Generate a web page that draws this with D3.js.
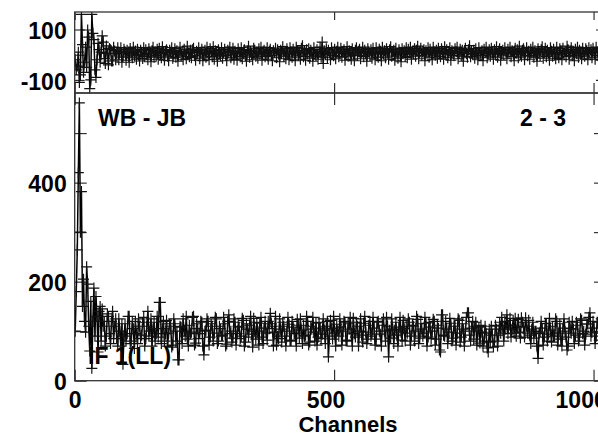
<!DOCTYPE html>
<html>
<head>
<meta charset="utf-8">
<script src="https://cdn.jsdelivr.net/npm/d3@7"></script>
<style>
  html, body { margin: 0; padding: 0; background: #fff; }
  svg { display: block; }
  text { font-family: "Liberation Sans", Arial, sans-serif; font-weight: bold; }
</style>
</head>
<body>
<svg id="chart" width="598" height="436"></svg>
<script>
// ---- data ----
const channelStart = 1;
const channelStep = 2;
const amplitude = [
  100, 180, 264, 420, 561, 300, 382, 150, 205, 120, 98, 230, 195, 110, 60, 160,
  25, 120, 187, 90, 170, 130, 58, 140, 150, 80, 145, 110, 120, 70, 90, 135,
  130, 95, 75, 120, 140, 85, 110, 125, 85, 70, 125, 100, 70, 115, 33, 90,
  115, 80, 95, 130, 130, 75, 80, 120, 105, 65, 120, 95, 75, 125, 110, 85,
  92, 118, 128, 70, 85, 110, 140, 90, 100, 125, 70, 105, 118, 80, 95, 130,
  88, 158, 158, 75, 105, 120, 80, 95, 122, 70, 96, 115, 110, 68, 72, 125,
  115, 80, 100, 42, 42, 110, 108, 75, 125, 100, 90, 130, 84, 70, 112, 95,
  98, 128, 130, 72, 76, 115, 105, 85, 95, 120, 118, 70, 52, 100, 102, 125,
  120, 72, 88, 115, 110, 80, 96, 128, 125, 75, 80, 110, 105, 90, 92, 128,
  115, 70, 74, 120, 133, 95, 100, 78, 86, 125, 118, 72, 95, 110, 108, 85,
  90, 126, 122, 70, 78, 115, 104, 88, 112, 130, 94, 68, 126, 100, 84, 118,
  100, 72, 116, 128, 88, 75, 106, 120, 96, 82, 120, 105, 136, 115, 110, 70,
  98, 130, 72, 90, 85, 125, 104, 78, 118, 110, 90, 70, 100, 128, 114, 82,
  80, 120, 108, 95, 96, 70, 124, 112, 86, 125, 102, 75, 112, 90, 92, 130,
  120, 72, 78, 110, 104, 128, 98, 80, 116, 72, 88, 118, 106, 85, 94, 125,
  102, 75, 110, 120, 48, 90, 122, 105, 84, 130, 96, 70, 114, 100, 90, 125,
  108, 72, 100, 120, 118, 80, 82, 115, 104, 128, 96, 70, 126, 95, 88, 118,
  110, 70, 100, 125, 92, 78, 116, 130, 98, 75, 84, 112, 120, 90, 94, 128,
  106, 72, 84, 118, 120, 100, 94, 70, 112, 125, 100, 80, 128, 110, 48, 102,
  86, 125, 104, 75, 102, 118, 92, 70, 108, 128, 98, 82, 122, 105, 80, 110,
  96, 125, 118, 72, 90, 112, 110, 80, 100, 130, 124, 75, 86, 115, 104, 90,
  96, 128, 116, 70, 88, 118, 108, 85, 100, 124, 120, 72, 84, 112, 106, 62,
  58, 133, 133, 92, 90, 120, 104, 75, 98, 126, 116, 80, 86, 110, 110, 72,
  96, 125, 122, 78, 88, 115, 104, 70, 100, 128, 137, 137, 92, 80, 106, 120,
  84, 110, 118, 72, 100, 108, 76, 112, 98, 70, 80, 110, 96, 66, 58, 104,
  78, 110, 92, 68, 80, 112, 104, 70, 92, 118, 96, 128, 110, 80, 120, 104,
  133, 95, 112, 126, 88, 104, 122, 96, 126, 90, 110, 124, 98, 86, 127, 118,
  108, 88, 127, 110, 96, 122, 92, 75, 104, 118, 86, 100, 100, 70, 45, 95,
  98, 120, 106, 72, 88, 115, 116, 80, 94, 126, 102, 78, 110, 90, 90, 125,
  120, 72, 96, 115, 84, 70, 106, 125, 100, 88, 62, 70, 118, 105, 96, 120,
  104, 75, 92, 118, 112, 80, 88, 125, 122, 95, 100, 72, 94, 115, 114, 128,
  137, 90, 98, 120, 106, 75, 90, 118, 118, 82, 96, 125, 108, 80, 100, 110
];
const phase = [
  -20, -60, -45, 10, -110, -80, 160, 40, -70, -30, 30, -50, 98, 70, -135, -100,
  160, 85, 60, -60, -90, -20, 45, 20, -30, 10, 75, 50, -15, -35, 35, 5,
  -40, 25, 20, -25, -25, 30, 15, -20, 5, 28, -20, 10, 28, -30, -10, 22,
  12, -22, 18, 4, -30, 25, 8, -12, 30, -5, 15, -18, 22, 0, -25, 18,
  10, -15, 28, -8, 20, 2, -20, 24, 6, -28, 16, 30, -10, 12, -4, 22,
  -18, 26, 4, -12, 32, 8, -22, 14, 20, -6, -24, 18, 10, 28, -14, 2,
  24, -10, 16, -26, 8, 30, -2, 12, -20, 22, 4, -16, 34, 6, -8, 18,
  -12, 20, 26, -4, -22, 14, 8, 28, -16, 10, 22, -24, 2, 18, -10, 30,
  6, -20, 24, 12, -8, 32, -18, 16, 4, -26, 20, 10, -6, 28, -14, 8,
  22, -4, -24, 18, 12, 30, -12, 2, 26, -18, 14, 6, -22, 24, 10, -8,
  28, -16, 8, 20, -2, -26, 16, 34, -10, 12, 4, -20, 26, 18, -6, 10,
  -14, 24, 2, 30, -22, 12, 18, -8, 6, 28, -18, 14, 22, -4, -24, 16,
  8, 26, -12, 20, 4, -28, 18, 10, 32, -6, 14, -16, 24, 2, -20, 28,
  12, -10, 22, 6, -24, 30, 16, -2, 8, -18, 26, 36, -8, 14, -22, 20,
  4, 24, -14, 18, 10, -26, 28, 6, -6, 20, -18, 12, 30, -10, 50, -35,
  16, 2, 24, -12, 18, 8, -20, 28, 10, -4, 22, -16, 14, 30, -8, 6,
  26, -10, 12, 20, -22, 4, 32, -6, 16, 8, -18, 24, 2, -24, 18, 28,
  -4, 14, 22, -16, 10, 30, -8, 18, 6, -26, 24, 12, -2, 20, -14, 26,
  8, -20, 28, 4, -10, 22, 14, -24, 30, 2, 16, -12, 24, 10, -18, 20,
  32, -6, 12, 18, -22, 26, 6, -14, 20, 10, -28, 24, 4, 16, -8, 28,
  -12, 22, 8, 30, -18, 14, 2, 24, -6, 18, 34, -16, 10, 26, -4, 12,
  20, -24, 16, 6, 28, -10, 22, 4, -20, 30, 12, -2, 18, -14, 26, 8,
  -8, 24, 14, -18, 32, 2, 20, -12, 10, 28, -22, 16, 6, -4, 24, 12,
  30, -16, 8, 22, -6, 18, -26, 14, 26, 4, -10, 20, 36, -8, 12, 2,
  18, -14, 24, 6, -20, 28, 10, -4, 16, -24, 22, 8, 30, -12, 4, 20,
  -6, 26, 12, -18, 20, 2, 32, -10, 14, 24, -22, 8, 18, -2, 28, 10,
  -16, 22, 4, 30, -8, 16, 12, -24, 26, 6, 20, -12, 34, 2, -6, 18,
  24, -20, 10, 28, -4, 14, -18, 22, 8, 30, -10, 16, 4, -26, 24, 12,
  -2, 20, 32, -14, 10, 26, -8, 18, 6, -22, 28, 14, -6, 22, 2, -16,
  30, 8, -12, 24, 16, -20, 26, 4, 12, -8, 34, 20, -18, 10, 28, -4,
  14, -24, 22, 6, 30, -10, 18, 2, -16, 26, 10, -6, 24, 16, -20, 28,
  4, 20, -12, 26, 8, -18, 30, 12, -4, 22, 16, -22, 28, 6, -10, 18
];
const xTicks = [0, 500, 1000];
const ampTicks = [0, 100, 200, 300, 400, 500];
const ampLabels = [0, 200, 400];
const phaseTicks = [-100, 0, 100];
const phaseLabels = [-100, 100];
const baselineLabel = "WB - JB";
const antennaLabel = "2 - 3";
const polLabel = "IF 1(LL)";
const xTitle = "Channels";

// ---- layout ----
const left = 74.7, right = 606;
const topTop = 12, divider = 93, bottom = 380.7;
const fontSize = 23;

const svg = d3.select("#chart");

const x = d3.scaleLinear().domain([0, 1024]).range([left, right]);
const yAmp = d3.scaleLinear().domain([0, 581]).range([bottom, divider]);
const yPh = d3.scaleLinear().domain([-152, 169.5]).range([divider, topTop]);

const points = amplitude.map((a, i) => ({ ch: channelStart + i * channelStep, amp: a, ph: phase[i] }));

// clip paths
const defs = svg.append("defs");
defs.append("clipPath").attr("id", "clipTop").append("rect")
  .attr("x", left).attr("y", topTop).attr("width", right - left).attr("height", divider - topTop);
defs.append("clipPath").attr("id", "clipBot").append("rect")
  .attr("x", left).attr("y", divider).attr("width", right - left).attr("height", bottom - divider);

// ---- axes ----
function styleAxis(g) {
  g.select(".domain").remove();
  g.selectAll(".tick line").attr("stroke", "#222").attr("stroke-width", 1.1);
  g.selectAll(".tick text").attr("fill", "#000").style("font-size", fontSize + "px")
    .style("font-weight", "bold").attr("font-family", null);
}

// bottom panel y axes
svg.append("g").attr("transform", `translate(${left},0)`)
  .call(d3.axisLeft(yAmp).tickValues(ampTicks).tickSize(-12).tickPadding(8)
    .tickFormat(d => ampLabels.includes(d) ? d : ""))
  .call(styleAxis)
  .call(g => g.selectAll(".tick text").attr("dy", "0.4em"));
svg.append("g").attr("transform", `translate(${right},0)`)
  .call(d3.axisRight(yAmp).tickValues(ampTicks).tickSize(-12).tickFormat(""))
  .call(styleAxis);

// top panel y axes
svg.append("g").attr("transform", `translate(${left},0)`)
  .call(d3.axisLeft(yPh).tickValues(phaseTicks).tickSize(-10).tickPadding(8)
    .tickFormat(d => phaseLabels.includes(d) ? d : ""))
  .call(styleAxis)
  .call(g => g.selectAll(".tick text").attr("dy", "0.4em"));
svg.append("g").attr("transform", `translate(${right},0)`)
  .call(d3.axisRight(yPh).tickValues(phaseTicks).tickSize(-10).tickFormat(""))
  .call(styleAxis);

// x axes
svg.append("g").attr("transform", `translate(0,${bottom})`)
  .call(d3.axisBottom(x).tickValues(xTicks).tickSize(-11).tickPadding(11).tickFormat(d3.format("d")))
  .call(styleAxis)
  .call(g => g.selectAll(".tick text").attr("dx", d => -(String(d).length - 1) * 4.3));
svg.append("g").attr("transform", `translate(0,${divider})`)
  .call(d3.axisTop(x).tickValues(xTicks).tickSize(-12).tickFormat(""))
  .call(styleAxis);
svg.append("g").attr("transform", `translate(0,${divider})`)
  .call(d3.axisBottom(x).tickValues(xTicks).tickSize(-10).tickFormat(""))
  .call(styleAxis);
svg.append("g").attr("transform", `translate(0,${topTop})`)
  .call(d3.axisTop(x).tickValues(xTicks).tickSize(-8).tickFormat(""))
  .call(styleAxis);

// ---- labels under the data ----
svg.append("text").attr("x", 88).attr("y", 364).style("font-size", fontSize + "px").text(polLabel);

// ---- data ----
function drawSeries(yScale, key, clipId) {
  const g = svg.append("g").attr("clip-path", `url(#${clipId})`);
  const line = d3.line().x(d => x(d.ch)).y(d => yScale(d[key]));
  g.append("path").datum(points).attr("d", line)
    .attr("fill", "none").attr("stroke", "#000").attr("stroke-width", 1.5);
  const h = 5.5;
  let p = "";
  points.forEach(d => {
    const px = x(d.ch), py = yScale(d[key]);
    p += `M${px - h},${py}h${2 * h}M${px},${py - h}v${2 * h}`;
  });
  g.append("path").attr("d", p).attr("fill", "none").attr("stroke", "#111")
    .attr("stroke-width", 1.2);
}
drawSeries(yPh, "ph", "clipTop");
drawSeries(yAmp, "amp", "clipBot");

// ---- frames ----
svg.append("rect").attr("x", left).attr("y", topTop).attr("width", right - left).attr("height", divider - topTop)
  .attr("fill", "none").attr("stroke", "#333").attr("stroke-width", 1.3);
svg.append("rect").attr("x", left).attr("y", divider).attr("width", right - left).attr("height", bottom - divider)
  .attr("fill", "none").attr("stroke", "#333").attr("stroke-width", 1.3);

// ---- labels ----
svg.append("text").attr("x", 98).attr("y", 126).style("font-size", fontSize + "px").text(baselineLabel);
svg.append("text").attr("x", 520).attr("y", 126).style("font-size", fontSize + "px").text(antennaLabel);
svg.append("text").attr("x", 348).attr("y", 432).attr("text-anchor", "middle")
  .style("font-size", "22px").text(xTitle);
</script>
</body>
</html>
